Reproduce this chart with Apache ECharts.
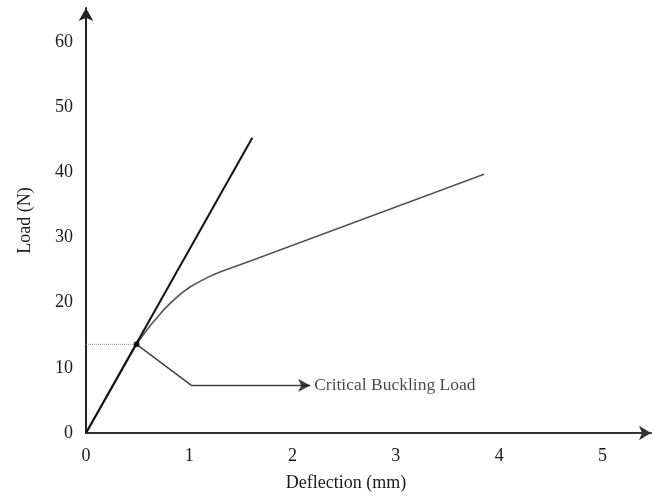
<!DOCTYPE html>
<html>
<head>
<meta charset="utf-8">
<script src="https://cdn.jsdelivr.net/npm/echarts@6/dist/echarts.min.js"></script>
<style>
  html, body { margin: 0; padding: 0; background: #fff; }
  #chart { width: 652px; height: 497px; }
</style>
</head>
<body>
<div id="chart"></div>
<script>
// values
const xTicks = [0, 1, 2, 3, 4, 5];
const yTicks = [0, 10, 20, 30, 40, 50, 60];

// linear (elastic) line
const linearX = [0, 1.61];
const linearY = [0, 45.3];

// measured load-deflection curve
const curveX = [0, 0.25, 0.49, 0.535, 0.58, 0.63, 0.684, 0.76, 0.845, 0.925, 1.007, 1.09, 1.168, 1.25, 1.329, 1.41, 1.491, 1.65, 1.813, 3.853];
const curveY = [0, 6.9, 13.6, 14.65, 15.6, 16.65, 17.6, 19.05, 20.35, 21.45, 22.4, 23.15, 23.8, 24.4, 24.9, 25.35, 25.8, 26.75, 27.7, 39.7];

// critical buckling point and its note
const critical = [0.49, 13.6];
const leaderX = [0.49, 1.02, 2.17];
const leaderY = [13.6, 7.3, 7.3];
const noteText = 'Critical Buckling Load';

const font = 'Liberation Serif';
const pairs = (xs, ys) => xs.map((x, i) => [x, ys[i]]);

const chart = echarts.init(document.getElementById('chart'));
const option = {
  backgroundColor: '#fff',
  animation: false,
  grid: { left: 86, right: 1, top: 8, bottom: 62 },
  xAxis: {
    type: 'value',
    min: 0, max: 5.47, interval: 1,
    name: 'Deflection (mm)',
    nameLocation: 'middle',
    nameGap: 41,
    nameTextStyle: { fontFamily: font, fontSize: 18, color: '#1a1a1a', padding: [0, 45, 0, 0] },
    axisLine: { lineStyle: { color: '#333', width: 2 }, symbol: ['none', 'arrow'], symbolSize: [11, 12] },
    axisTick: { show: false },
    splitLine: { show: false },
    axisLabel: {
      fontFamily: font, fontSize: 18, color: '#1a1a1a', margin: 14,
      showMaxLabel: false,
      formatter: v => xTicks.includes(v) ? String(v) : ''
    }
  },
  yAxis: {
    type: 'value',
    min: 0, max: 65.2, interval: 10,
    name: 'Load (N)',
    nameLocation: 'middle',
    nameGap: 52,
    nameTextStyle: { fontFamily: font, fontSize: 18, color: '#1a1a1a' },
    axisLine: { lineStyle: { color: '#222', width: 2 }, symbol: ['none', 'arrow'], symbolSize: [11, 13] },
    axisTick: { show: false },
    splitLine: { show: false },
    axisLabel: {
      fontFamily: font, fontSize: 18, color: '#1a1a1a', margin: 13,
      padding: [0, 0, 8, 0],
      showMaxLabel: false,
      formatter: v => yTicks.includes(v) ? String(v) : ''
    }
  },
  series: [
    {
      name: 'dotted',
      type: 'line',
      data: [[0, critical[1]], critical],
      showSymbol: false,
      lineStyle: { color: '#999', width: 1, type: 'dotted' },
      z: 1
    },
    {
      name: 'linear',
      type: 'line',
      data: pairs(linearX, linearY),
      showSymbol: false,
      lineStyle: { color: '#111', width: 2 },
      z: 3
    },
    {
      name: 'curve',
      type: 'line',
      data: pairs(curveX, curveY),
      showSymbol: false,
      lineStyle: { color: '#555', width: 1.6, join: 'round' },
      z: 2
    },
    {
      name: 'leader',
      type: 'line',
      data: pairs(leaderX, leaderY),
      showSymbol: false,
      lineStyle: { color: '#444', width: 1.5 },
      z: 2
    },
    {
      name: 'arrowhead',
      type: 'scatter',
      data: [[leaderX[2], leaderY[2]]],
      symbol: 'arrow',
      symbolSize: [10, 12],
      symbolRotate: -90,
      itemStyle: { color: '#111' },
      label: {
        show: true, position: 'right', distance: 4,
        formatter: noteText,
        fontFamily: font, fontSize: 17.5, color: '#1a1a1a'
      },
      z: 4
    },
    {
      name: 'critical',
      type: 'scatter',
      data: [critical],
      symbol: 'circle',
      symbolSize: 6,
      itemStyle: { color: '#000' },
      z: 5
    }
  ]
};
option && chart.setOption(option);
</script>
</body>
</html>
